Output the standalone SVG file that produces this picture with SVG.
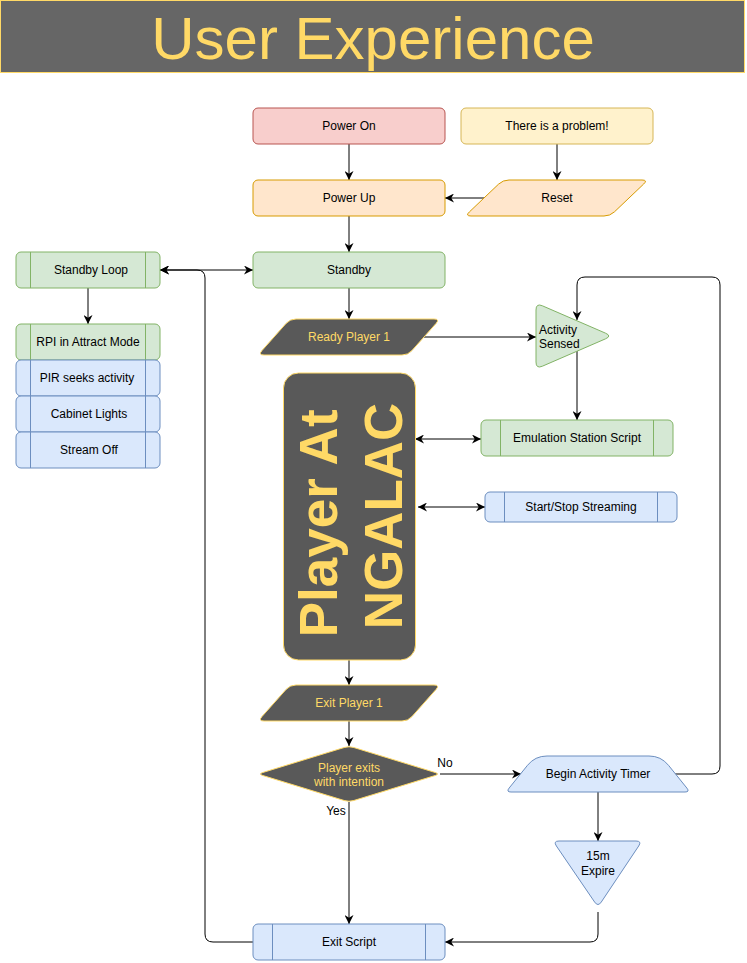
<svg xmlns="http://www.w3.org/2000/svg" width="747" height="963" viewBox="0 0 747 963">
<style>
.t{font-family:"Liberation Sans",Arial,Helvetica,sans-serif;font-size:12px;text-anchor:middle;fill:#000}
.y{fill:#FFD966}
.c{fill:none;stroke:#000;stroke-width:1}
.g{fill:#d5e8d4;stroke:#82b366}
.b{fill:#dae8fc;stroke:#6c8ebf}
.o{fill:#ffe6cc;stroke:#d79b00}
.r{fill:#f8cecc;stroke:#b85450}
.ye{fill:#fff2cc;stroke:#d6b656}
.d{fill:#595959;stroke:#FFD966}
</style>
<defs>
<marker id="a" viewBox="0 0 10 10" refX="10" refY="5" markerWidth="9" markerHeight="9" markerUnits="userSpaceOnUse" orient="auto-start-reverse">
<path d="M0,0 L10,5 L0,10 L3,5 Z" fill="#000"/>
</marker>
</defs>
<rect width="747" height="963" fill="#fff"/>
<g id="title">
<rect x="0.5" y="0.5" width="744" height="72" fill="#666666" stroke="#FFD966"/>
<text x="373" y="59" class="t y" style="font-size:60px">User Experience</text>
</g>
<g id="connectors">
<path class="c" d="M349,144 L349,180" marker-end="url(#a)"/>
<path class="c" d="M557,144 L557,180" marker-end="url(#a)"/>
<path class="c" d="M484,198 L445,198" marker-end="url(#a)"/>
<path class="c" d="M349,216 L349,252" marker-end="url(#a)"/>
<path class="c" d="M160,270 L253,270" marker-start="url(#a)" marker-end="url(#a)"/>
<path class="c" d="M253,942 L213,942 Q205,942 205,934 L205,278 Q205,270 197,270 L160,270" marker-end="url(#a)"/>
<path class="c" d="M88,288 L88,324" marker-end="url(#a)"/>
<path class="c" d="M349,288 L349,319" marker-end="url(#a)"/>
<path class="c" d="M424,337 L536,337" marker-end="url(#a)"/>
<path class="c" d="M577,351 L577,420" marker-end="url(#a)"/>
<path class="c" d="M415,439 L481,439" marker-start="url(#a)" marker-end="url(#a)"/>
<path class="c" d="M418,507 L485,507" marker-start="url(#a)" marker-end="url(#a)"/>
<path class="c" d="M349,660 L349,685" marker-end="url(#a)"/>
<path class="c" d="M349,721 L349,746" marker-end="url(#a)"/>
<path class="c" d="M440,774 L521,774" marker-end="url(#a)"/>
<path class="c" d="M349,802 L349,924" marker-end="url(#a)"/>
<path class="c" d="M675,774 L712,774 Q720,774 720,766 L720,285 Q720,277 712,277 L585,277 Q577,277 577,285 L577,320" marker-end="url(#a)"/>
<path class="c" d="M598,792 L598,841" marker-end="url(#a)"/>
<path class="c" d="M598,912 L598,934 Q598,942 590,942 L445,942" marker-end="url(#a)"/>
<text x="445" y="767" class="t">No</text>
<text x="336" y="815" class="t">Yes</text>
</g>
<g id="power-on">
<rect x="253" y="108" width="192" height="36" rx="5" class="r"/>
<text x="349" y="130" class="t">Power On</text>
</g>
<g id="problem">
<rect x="461" y="108" width="192" height="36" rx="5" class="ye"/>
<text x="557" y="130" class="t">There is a problem!</text>
</g>
<g id="power-up">
<rect x="253" y="180" width="192" height="36" rx="5" class="o"/>
<text x="349" y="202" class="t">Power Up</text>
</g>
<g id="reset">
<path class="o" d="M509,180 L642,180 Q648,180 643.6,184.1 L614.4,211.9 Q610,216 604,216 L471,216 Q465,216 469.4,211.9 L498.6,184.1 Q503,180 509,180 Z"/>
<text x="557" y="202" class="t">Reset</text>
</g>
<g id="standby">
<rect x="253" y="252" width="192" height="36" rx="5" class="g"/>
<text x="349" y="274" class="t">Standby</text>
</g>
<g id="standby-loop">
<rect x="16" y="252" width="144" height="36" rx="5" class="g"/>
<path d="M30.5,252 V288 M145.5,252 V288" stroke="#82b366" fill="none"/>
<text x="91" y="274" class="t">Standby Loop</text>
</g>
<g id="rpi-attract">
<rect x="16" y="324" width="144" height="36" rx="5" class="g"/>
<path d="M30.5,324 V360 M145.5,324 V360" stroke="#82b366" fill="none"/>
<text x="88" y="346" class="t">RPI in Attract Mode</text>
</g>
<g id="pir">
<rect x="16" y="360" width="144" height="36" rx="5" class="b"/>
<path d="M30.5,360 V396 M145.5,360 V396" stroke="#6c8ebf" fill="none"/>
<text x="87" y="382" class="t">PIR seeks activity</text>
</g>
<g id="cabinet-lights">
<rect x="16" y="396" width="144" height="36" rx="5" class="b"/>
<path d="M30.5,396 V432 M145.5,396 V432" stroke="#6c8ebf" fill="none"/>
<text x="89" y="418" class="t">Cabinet Lights</text>
</g>
<g id="stream-off">
<rect x="16" y="432" width="144" height="36" rx="5" class="b"/>
<path d="M30.5,432 V468 M145.5,432 V468" stroke="#6c8ebf" fill="none"/>
<text x="89" y="454" class="t">Stream Off</text>
</g>
<g id="ready-player">
<path class="d" d="M296,319 L434,319 Q440,319 436,323.5 L412,350.5 Q408,355 402,355 L264,355 Q258,355 262,350.5 L286,323.5 Q290,319 296,319 Z"/>
<text x="349" y="341" class="t y">Ready Player 1</text>
</g>
<g id="activity-sensed">
<path class="g" d="M542.4,305.8 L605.6,333.2 Q612,336 605.6,338.8 L542.4,366.2 Q536,369 536,362 L536,310 Q536,303 542.4,305.8 Z"/>
<text x="539" y="334" class="t" style="text-anchor:start">Activity</text>
<text x="539" y="348" class="t" style="text-anchor:start">Sensed</text>
</g>
<g id="player-at-ngalac">
<rect x="283.5" y="373" width="132" height="287" rx="15" class="d"/>
<text transform="translate(349,516) rotate(-90)" class="t y" style="font-size:53px;font-weight:bold">
<tspan x="0" y="-12">Player At</tspan>
<tspan x="0" y="53">NGALAC</tspan>
</text>
</g>
<g id="emulation-station">
<rect x="481" y="420" width="192" height="36" rx="5" class="g"/>
<path d="M500.5,420 V456 M653.5,420 V456" stroke="#82b366" fill="none"/>
<text x="577" y="442" class="t">Emulation Station Script</text>
</g>
<g id="start-stop-streaming">
<rect x="485" y="492" width="192" height="30" rx="5" class="b"/>
<path d="M504.5,492 V522 M657.5,492 V522" stroke="#6c8ebf" fill="none"/>
<text x="581" y="511" class="t">Start/Stop Streaming</text>
</g>
<g id="exit-player">
<path class="d" d="M296,685 L434,685 Q440,685 436,689.5 L412,716.5 Q408,721 402,721 L264,721 Q258,721 262,716.5 L286,689.5 Q290,685 296,685 Z"/>
<text x="349" y="707" class="t y">Exit Player 1</text>
</g>
<g id="exits-decision">
<path class="d" d="M353.8,747.5 L435.2,772.5 Q440,774 435.2,775.5 L353.8,800.5 Q349,802 344.2,800.5 L262.8,775.5 Q258,774 262.8,772.5 L344.2,747.5 Q349,746 353.8,747.5 Z"/>
<text x="349" y="772" class="t y">Player exits</text>
<text x="349" y="786" class="t y">with intention</text>
</g>
<g id="activity-timer">
<path class="b" d="M547,756 L649,756 Q661,756 668.5,765.3 L686.9,788.1 Q690,792 685,792 L511,792 Q506,792 509.1,788.1 L527.5,765.3 Q535,756 547,756 Z"/>
<text x="598" y="778" class="t">Begin Activity Timer</text>
</g>
<g id="expire">
<path class="b" d="M559,841 L636,841 Q642,841 638.7,846 L601.3,902 Q598,907 594.6,902 L556.4,846 Q553,841 559,841 Z"/>
<text x="598" y="860" class="t">15m</text>
<text x="598" y="875" class="t">Expire</text>
</g>
<g id="exit-script">
<rect x="253" y="924" width="192" height="36" rx="5" class="b"/>
<path d="M272.5,924 V960 M425.5,924 V960" stroke="#6c8ebf" fill="none"/>
<text x="349" y="946" class="t">Exit Script</text>
</g>
</svg>
